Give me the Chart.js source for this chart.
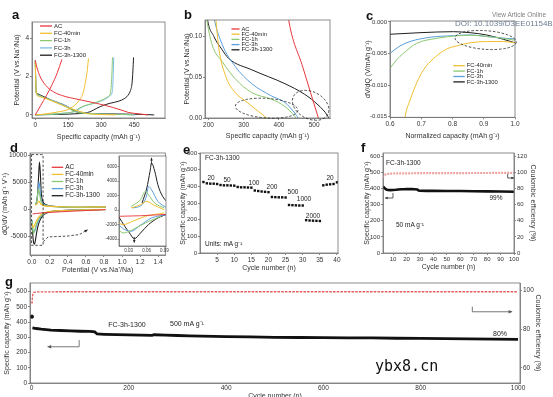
<!DOCTYPE html>
<html><head><meta charset="utf-8">
<script src="https://cdn.jsdelivr.net/npm/chart.js@4.4.1/dist/chart.umd.min.js"></script>
<style>
html,body{margin:0;padding:0;background:#fff}
#root{position:relative;width:553px;height:397px;overflow:hidden;background:#fff;font-family:"Liberation Sans",Arial,sans-serif}
#root canvas{position:absolute}
.t{position:absolute;white-space:nowrap;color:#222;font-size:6.5px;line-height:1;z-index:5;transform:translate(-50%,-50%)}
.tl{position:absolute;white-space:nowrap;color:#222;font-size:6.5px;line-height:1;z-index:5;transform:translateY(-50%)}
.p{position:absolute;font-weight:bold;font-size:13px;line-height:1;color:#111;z-index:5}
</style></head>
<body><div id="root">
<div class="p" style="left:12px;top:8px">a</div>
<div class="p" style="left:184px;top:8px">b</div>
<div class="p" style="left:366px;top:9px">c</div>
<div class="p" style="left:10px;top:141px">d</div>
<div class="p" style="left:183px;top:143px">e</div>
<div class="p" style="left:361px;top:141px">f</div>
<div class="p" style="left:5px;top:275px">g</div>
<div class="tl" style="left:492px;top:15px;color:#808080;font-size:6.5px">View Article Online</div>
<div class="tl" style="left:455px;top:23.5px;color:#6d7d92;font-size:8px">DOI: 10.1039/D3EE01154B</div>
<div class="tl" style="left:205px;top:158px">FC-3h-1300</div>
<div class="t" style="left:211px;top:178px">20</div>
<div class="t" style="left:227px;top:180px">50</div>
<div class="t" style="left:254px;top:183px">100</div>
<div class="t" style="left:272px;top:187px">200</div>
<div class="t" style="left:293px;top:192px">500</div>
<div class="t" style="left:304px;top:199px">1000</div>
<div class="t" style="left:313px;top:216px">2000</div>
<div class="t" style="left:330px;top:178px">20</div>
<div class="tl" style="left:205px;top:244px">Units: mA g⁻¹</div>
<div class="tl" style="left:386px;top:163px">FC-3h-1300</div>
<div class="tl" style="left:396px;top:225px">50 mA g⁻¹</div>
<div class="t" style="left:496px;top:198px">99%</div>
<div class="t" style="left:127px;top:324px;font-size:7px">FC-3h-1300</div>
<div class="tl" style="left:170px;top:323px;font-size:7px">500 mA g⁻¹</div>
<div class="t" style="left:500px;top:333px;font-size:7px">80%</div>
<div class="tl" style="left:375px;top:366px;font-family:'DejaVu Sans Mono',monospace;font-size:15px;color:#111">ybx8.cn</div>
</div>
<script>
// ---------------- DATA ----------------
const sampleNames = ['AC','FC-40min','FC-1h','FC-3h','FC-3h-1300'];
const sampleColors = ['#e8373d','#f2bf2f','#8cc870','#5b9fdc','#1f1f1f'];

// (a)/(b) galvanostatic curves: [capacity mAh/g, potential V]
const disAC   = [[0,2.85],[8,2.45],[20,2.05],[40,1.65],[70,1.3],[120,1.02],[200,0.8],[280,0.6],[350,0.4],[400,0.22],[426,0.124],[468,0.062],[512,0]];
const dis40   = [[0,2.8],[1.5,2.0],[4,1.2],[10,1.0],[30,0.92],[60,0.8],[120,0.52],[180,0.26],[220,0.124],[229,0.086],[248,0.052],[276,0.031],[304,0.021],[342,0.008],[365,0]];
const dis1h   = [[0,2.8],[1.5,2.0],[4,1.2],[10,1.05],[30,0.95],[68,0.78],[140,0.42],[175,0.2],[194,0.124],[210,0.09],[239,0.069],[276,0.048],[323,0.031],[379,0.023],[417,0.014],[445,0.002],[448,0]];
const dis3h   = [[0,2.8],[1.5,2.0],[4,1.2],[10,1.05],[30,0.95],[68,0.8],[150,0.42],[190,0.2],[215,0.124],[239,0.09],[276,0.063],[323,0.042],[379,0.027],[417,0.019],[445,0.006],[455,0]];
const dis1300 = [[0,2.85],[1.5,2.0],[4,1.2],[10,1.1],[30,1.0],[68,0.8],[144,0.45],[180,0.2],[196,0.124],[215,0.1],[238,0.084],[257,0.073],[323,0.059],[417,0.042],[473,0.029],[511,0.016],[539,0.002],[541,0]];
const chgAC   = [[0,0],[25,0.5],[50,1.0],[75,1.55],[100,2.2],[121,2.9]];
const chg40   = [[0,0],[30,0.03],[68,0.09],[110,0.17],[144,0.26],[170,0.42],[189,0.61],[205,0.85],[217,1.13],[227,1.65],[235,2.2],[242,2.95]];
const chg1h   = [[0,0],[60,0.03],[120,0.08],[175,0.18],[200,0.35],[220,0.47],[255,0.58],[300,0.76],[330,0.95],[342,1.15],[346,1.6],[349,2.3],[351,3.0]];
const chg3h   = [[0,0],[60,0.03],[120,0.08],[180,0.18],[205,0.35],[225,0.47],[260,0.58],[310,0.78],[338,0.98],[350,1.2],[353,1.6],[355,2.3],[357,3.0]];
const chg1300 = [[0,0],[100,0.03],[200,0.07],[250,0.17],[280,0.35],[310,0.5],[341,0.61],[380,0.72],[405,0.85],[420,1.0],[432,1.25],[440,1.65],[444,2.3],[447,3.0]];

// (c) dV/dQ vs normalized capacity
const c40   = [[0.64,-0.0185],[0.648,-0.0151],[0.664,-0.0124],[0.685,-0.0097],[0.707,-0.0076],[0.739,-0.0058],[0.781,-0.0043],[0.813,-0.0038],[0.856,-0.0033],[0.909,-0.0031],[0.963,-0.0031],[1.0,-0.0033]];
const c1h   = [[0.6,-0.00735],[0.621,-0.006],[0.643,-0.00497],[0.685,-0.0034],[0.749,-0.0026],[0.813,-0.0022],[0.856,-0.0021],[0.909,-0.0023],[0.963,-0.0026],[1.0,-0.0029]];
const c3h   = [[0.6,-0.00497],[0.632,-0.0038],[0.664,-0.0031],[0.728,-0.00243],[0.803,-0.00217],[0.856,-0.00206],[0.909,-0.0023],[0.963,-0.00256],[1.0,-0.0027]];
const c1300 = [[0.6,-0.00195],[0.696,-0.0017],[0.803,-0.00154],[0.856,-0.0017],[0.909,-0.00206],[0.963,-0.00275],[1.0,-0.0033]];

// (d) dQ/dV main
const dAC      = [[0.01,-900],[0.05,-800],[0.2,-600],[0.4,-420],[0.6,-260],[0.82,-100]];
const d40Pos   = [[0.04,700],[0.06,1000],[0.078,1500],[0.09,1200],[0.11,800],[0.16,550],[0.3,450],[0.55,400],[0.82,420]];
const d40Neg   = [[0.006,-2800],[0.015,-3400],[0.03,-3000],[0.05,-2200],[0.08,-1400],[0.12,-800],[0.18,-500],[0.3,-300],[0.55,-180],[0.82,-80]];
const d1hPos   = [[0.04,800],[0.06,2000],[0.072,3800],[0.085,3000],[0.1,1500],[0.12,900],[0.16,600],[0.3,420],[0.55,330],[0.82,350]];
const d1hNeg   = [[0.004,-2200],[0.01,-3800],[0.018,-4500],[0.03,-4000],[0.05,-2800],[0.08,-1700],[0.12,-900],[0.18,-550],[0.3,-300],[0.55,-150],[0.82,-60]];
const d3hPos   = [[0.045,800],[0.065,2500],[0.08,5000],[0.09,3800],[0.1,2000],[0.12,1100],[0.16,700],[0.3,450],[0.55,350],[0.82,380]];
const d3hNeg   = [[0.004,-2000],[0.01,-3500],[0.02,-4300],[0.03,-4200],[0.05,-3200],[0.08,-1900],[0.12,-1000],[0.18,-550],[0.3,-300],[0.55,-150],[0.82,-60]];
const d1300Pos = [[0.05,1000],[0.065,3000],[0.075,6000],[0.085,8700],[0.095,6500],[0.105,3000],[0.12,1500],[0.16,800],[0.3,450],[0.55,350],[0.82,380]];
const d1300Neg = [[0.004,-2500],[0.01,-4500],[0.02,-6200],[0.03,-6500],[0.04,-5800],[0.055,-4200],[0.08,-2500],[0.12,-1200],[0.18,-600],[0.3,-300],[0.55,-150],[0.82,-60]];
// (d) inset
const inAC      = [[0.0131,-870],[0.05,-790],[0.1,-570]];
const in40Pos   = [[0.0343,280],[0.05,730],[0.0605,1200],[0.0711,730],[0.0896,40]];
const in40Neg   = [[0.0131,-1790],[0.021,-2020],[0.0368,-1560],[0.058,-870],[0.0896,-410]];
const in1hPos   = [[0.0343,500],[0.05,1420],[0.058,2570],[0.0632,2110],[0.0738,960],[0.0896,280]];
const in1hNeg   = [[0.0131,-2710],[0.021,-3170],[0.0368,-2710],[0.058,-1790],[0.0842,-870]];
const in3hPos   = [[0.0368,280],[0.0526,730],[0.0605,2110],[0.0632,3260],[0.0684,2800],[0.079,1200],[0.0948,280]];
const in3hNeg   = [[0.0131,-2020],[0.0237,-2710],[0.0343,-2940],[0.0474,-2250],[0.0684,-1100],[0.0948,-640]];
const in1300Pos = [[0.0526,965],[0.0605,3030],[0.0659,5340],[0.0684,6480],[0.0738,5340],[0.079,3490],[0.0869,1890],[0.1,730]];
const in1300Neg = [[0.0131,-870],[0.0237,-2250],[0.0316,-3170],[0.0395,-3960],[0.05,-3170],[0.0632,-2020],[0.079,-1100],[0.1,-410]];

// (e) rate capability
const eCycles   = [1,2,3,4,5,6,7,8,9,10,11,12,13,14,15,16,17,18,19,20,21,22,23,24,25,26,27,28,29,30,31,32,33,34,35,36,37,38,39,40];
const eCapacity = [426,418,416,416,414, 408,406,406,405,404, 396,394,394,393,392, 375,372,369,367,365, 336,335,334,334,333, 288,287,286,285,285, 197,195,194,193,192, 406,410,412,414,424];

// (f) cycling at 50 mA/g
const fCapacity = [[2,410],[3,408],[4,400],[5,393],[6,391],[8,390],[10,391],[12,392],[14,394],[16,395],[18,395],[20,396],[22,396],[24,396],[26,395],[28,394],[29,387],[30,386],[35,385],[40,385],[50,384],[60,384],[70,383],[80,382],[90,381],[100,380]];
const fCE       = [[2,94],[3,96],[4,97],[5,97.8],[7,98.2],[10,98.6],[20,98.8],[30,99],[40,99],[50,99.1],[60,99.1],[70,99.2],[80,99.2],[90,99.3],[100,99.3]];

// (g) long cycling at 500 mA/g
const gFirst    = [[1,436]];
const gCapacity = [[2,362],[10,358],[20,354],[40,348],[60,345],[80,342],[100,340],[120,339],[130,336],[135,322],[150,320],[175,318],[200,316],[225,315],[248,313],[252,317],[275,314],[300,312],[325,310],[350,308],[400,305],[450,303],[500,300],[550,299],[600,298],[650,297],[700,296],[750,294],[800,293],[850,291],[900,290],[950,288],[1000,287]];
const gCE       = [[1,93],[2,96.5],[3,98],[5,98.8],[10,99],[50,99.1],[100,99.1],[150,99.1],[200,99.1],[250,99.1],[300,99.1],[350,99.1],[400,99.1],[450,99.1],[500,99.1],[550,99.1],[600,99.1],[650,99.1],[700,99.1],[750,99.1],[800,99.1],[850,99.1],[900,99.1],[950,99.1],[1000,99.1]];

// tick values
const aXTicks=[0,150,300,450], aYTicks=[0,2,4];
const bXTicks=[200,300,400,500], bYTicks=[0,0.05,0.10];
const cXTicks=[0.6,0.7,0.8,0.9,1.0], cYTicks=[0,-0.005,-0.010,-0.015];
const dXTicks=[0,0.2,0.4,0.6,0.8,1.0,1.2,1.4], dYTicks=[-5000,0,5000,10000];
const inXTicks=[0.03,0.06,0.09], inYTicks=[-4000,-2000,0,2000,4000,6000];
const eXTicks=[5,10,15,20,25,30,35,40], eYTicks=[0,100,200,300,400,500,600];
const fXTicks=[10,20,30,40,50,60,70,80,90,100], fYTicks=[0,100,200,300,400,500,600], fY2Ticks=[0,20,40,60,80,100,120];
const gXTicks=[0,200,400,600,800,1000], gYTicks=[0,100,200,300,400,500,600], gY2Ticks=[60,80,100];

// ---------------- HELPERS ----------------
const FONT='"Liberation Sans", Arial, Helvetica, sans-serif';
const fix = d => v => Number(v).toFixed(d);
const pts = a => a.map(p => ({x:p[0], y:p[1]}));

function axis(o){
  const horiz = (o.position==='bottom'||o.position==='top');
  return {
    type:'linear', position:o.position, min:o.min, max:o.max,
    afterBuildTicks: s => { s.ticks = o.ticks.map(v => ({value:v})); },
    afterFit: s => { if (horiz) s.height = o.size; else s.width = o.size; },
    ticks:{autoSkip:false, maxRotation:0, minRotation:0, color:'#333',
      font:{family:FONT, size:o.tf||6.5}, padding:(o.tp!==undefined?o.tp:1),
      callback: v => (o.fmt ? o.fmt(v) : String(v))},
    grid:{display:true, drawOnChartArea:false, drawTicks:true, tickLength:(o.tl!==undefined?o.tl:2), color:'#555', lineWidth:0.7},
    border:{display:true, color:'#777', width:0.8},
    title:{display:!!o.title, text:o.title||'', color:'#333', font:{family:FONT, size:o.ttf||7},
      padding:{top:o.tpad||0, bottom:o.tpad||0}}
  };
}
function line(data, color, w, extra){
  return Object.assign({data:pts(data), showLine:true, borderColor:color, backgroundColor:color,
    borderWidth:w||1, pointRadius:0, cubicInterpolationMode:'monotone', fill:false}, extra||{});
}

const framePlugin = {
  id:'frame',
  beforeDraw(chart, args, o){
    if (!o || !o.fill) return;
    const a=chart.chartArea, ctx=chart.ctx;
    ctx.save(); ctx.fillStyle=o.fill; ctx.fillRect(a.left,a.top,a.right-a.left,a.bottom-a.top); ctx.restore();
  },
  afterDatasetsDraw(chart, args, o){
    const a=chart.chartArea, ctx=chart.ctx;
    ctx.save(); ctx.strokeStyle=(o&&o.color)||'#707070'; ctx.lineWidth=0.8;
    ctx.strokeRect(a.left,a.top,a.right-a.left,a.bottom-a.top); ctx.restore();
  }
};
const legendPlugin = {
  id:'legendBox',
  afterDraw(chart, args, o){
    if (!o || !o.items) return;
    const ctx=chart.ctx, x0=chart.chartArea.left+o.x, y0=chart.chartArea.top+o.y;
    ctx.save(); ctx.font=o.size+'px '+FONT; ctx.textBaseline='middle'; ctx.textAlign='left';
    o.items.forEach((it,i)=>{
      const y=y0+i*o.dy;
      ctx.strokeStyle=it.color; ctx.lineWidth=o.lw||1.3; ctx.beginPath(); ctx.moveTo(x0,y); ctx.lineTo(x0+o.len,y); ctx.stroke();
      ctx.fillStyle='#222'; ctx.fillText(it.label, x0+o.len+(o.gap||2), y);
    });
    ctx.restore();
  }
};
const annotPlugin = {
  id:'annot',
  afterDatasetsDraw(chart, args, o){
    if (!o) return;
    const ctx=chart.ctx, X=chart.scales.x, Y=id=>chart.scales[id||'y'];
    ctx.save();
    (o.ellipses||[]).forEach(e=>{
      const ys=Y(e.axis), cx=X.getPixelForValue(e.cx), cy=ys.getPixelForValue(e.cy);
      const rx=Math.abs(X.getPixelForValue(e.cx+e.rx)-cx), ry=Math.abs(ys.getPixelForValue(e.cy+e.ry)-cy);
      ctx.beginPath(); ctx.setLineDash([2.5,1.8]); ctx.strokeStyle='#222'; ctx.lineWidth=0.8;
      ctx.ellipse(cx,cy,rx,ry,(e.rot||0)*Math.PI/180,0,Math.PI*2); ctx.stroke();
    });
    (o.rects||[]).forEach(r=>{
      const ys=Y(r.axis), x0=X.getPixelForValue(r.x0), x1=X.getPixelForValue(r.x1), y0=ys.getPixelForValue(r.y0), y1=ys.getPixelForValue(r.y1);
      ctx.beginPath(); ctx.setLineDash([2.5,1.8]); ctx.strokeStyle='#222'; ctx.lineWidth=0.8;
      ctx.strokeRect(x0,y0,x1-x0,y1-y0);
    });
    (o.paths||[]).forEach(p=>{
      const ys=Y(p.axis);
      const q=p.pts.map(v=>[X.getPixelForValue(v[0]), ys.getPixelForValue(v[1])]);
      ctx.beginPath(); ctx.setLineDash(p.dash||[]); ctx.strokeStyle=p.color||'#222'; ctx.lineWidth=p.width||0.8;
      q.forEach((v,i)=> i?ctx.lineTo(v[0],v[1]):ctx.moveTo(v[0],v[1])); ctx.stroke();
      if (p.arrow){
        const [x1,y1]=q[q.length-2], [x2,y2]=q[q.length-1], ang=Math.atan2(y2-y1,x2-x1), s=p.head||3.5;
        ctx.setLineDash([]); ctx.fillStyle=p.color||'#222'; ctx.beginPath(); ctx.moveTo(x2,y2);
        ctx.lineTo(x2-s*Math.cos(ang-0.45), y2-s*Math.sin(ang-0.45));
        ctx.lineTo(x2-s*Math.cos(ang+0.45), y2-s*Math.sin(ang+0.45)); ctx.closePath(); ctx.fill();
      }
    });
    ctx.restore();
  }
};

function mk(box, datasets, scales, pad, plugins){
  const c=document.createElement('canvas');
  c.width=box.w; c.height=box.h;
  c.style.left=box.l+'px'; c.style.top=box.t+'px'; c.style.width=box.w+'px'; c.style.height=box.h+'px';
  document.getElementById('root').appendChild(c);
  return new Chart(c, {
    type:'scatter',
    data:{datasets},
    options:{
      responsive:false, maintainAspectRatio:false, animation:false, devicePixelRatio:1,
      layout:{padding:Object.assign({top:0,right:0,bottom:0,left:0}, pad)},
      plugins:Object.assign({legend:{display:false}, tooltip:{enabled:false}}, plugins||{}),
      scales
    },
    plugins:[framePlugin, legendPlugin, annotPlugin]
  });
}
const legendItems = idx => idx.map(i => ({label:sampleNames[i], color:sampleColors[i]}));

// ---------------- (a) ----------------
const aDis=[disAC,dis40,dis1h,dis3h,dis1300], aChg=[chgAC,chg40,chg1h,chg3h,chg1300];
const aSets=[];
[0,1,2,3,4].forEach(i=>{ aSets.push(line(aDis[i], i===3?'#79bde6':sampleColors[i], 1)); aSets.push(line(aChg[i], i===3?'#79bde6':sampleColors[i], 1)); });
mk({l:0,t:14,w:172,h:131}, aSets, {
  x:axis({position:'bottom',min:-15,max:590,ticks:aXTicks,size:27,title:'Specific capacity (mAh g⁻¹)',tpad:4,fmt:fix(0)}),
  y:axis({position:'left',min:-0.16,max:4.85,ticks:aYTicks,size:32,title:'Potential (V vs.Na⁺/Na)',tpad:12.5,fmt:fix(0)})
}, {top:8,right:7}, {legendBox:{x:8,y:4,dy:7.3,len:12,gap:2,size:6,items:legendItems([0,1,2,3,4]).map((it,i)=>i===3?{label:it.label,color:'#79bde6'}:it)}});

// ---------------- (b) ----------------
const bSets=[disAC,dis40,dis1h,dis3h,dis1300].map((d,i)=>line(d, sampleColors[i], 1));
mk({l:178,t:12,w:162,h:133}, bSets, {
  x:axis({position:'bottom',min:190,max:545,ticks:bXTicks,size:27,title:'Specific capacity (mAh g⁻¹)',tpad:4.8,fmt:fix(0)}),
  y:axis({position:'left',min:0,max:0.12,ticks:bYTicks,size:27,title:'Potential (V vs.Na⁺/Na)',tpad:5.3,fmt:fix(2)})
}, {top:8,right:10}, {
  legendBox:{x:26.5,y:9,dy:5.2,len:8,gap:2,size:5.8,items:legendItems([0,1,2,3,4])},
  annot:{ellipses:[{cx:365,cy:0.012,rx:89,ry:0.012,rot:4},{cx:490,cy:0.0155,rx:55,ry:0.0165,rot:28}]}
});

// ---------------- (c) ----------------
const cSets=[line(c40,sampleColors[1],1), line(c1h,sampleColors[2],1), line(c3h,sampleColors[3],1), line(c1300,sampleColors[4],1)];
mk({l:358,t:12,w:190,h:133}, cSets, {
  x:axis({position:'bottom',min:0.6,max:1.0,ticks:cXTicks,size:27.7,title:'Normalized capacity (mAh g⁻¹)',tpad:4.8,fmt:fix(1)}),
  y:axis({position:'left',min:-0.0151,max:0.00015,ticks:cYTicks,size:32,title:'dV/dQ (V/mAh g⁻¹)',tpad:5.8,tf:6,fmt:fix(3)})
}, {top:9,right:33}, {
  legendBox:{x:63.3,y:44.7,dy:5.4,len:11.5,gap:2,size:5.8,items:legendItems([1,2,3,4])},
  annot:{ellipses:[{cx:0.906,cy:-0.00286,rx:0.098,ry:0.00148,rot:4}]}
});

// ---------------- (d) main ----------------
const dSets=[line(dAC,sampleColors[0],1)];
[[d40Neg,d40Pos],[d1hNeg,d1hPos],[d3hNeg,d3hPos],[d1300Neg,d1300Pos]].forEach((pr,k)=>{
  dSets.push(line(pr[0], sampleColors[k+1], 1.1)); dSets.push(line(pr[1], sampleColors[k+1], 1.1));
});
mk({l:0,t:146,w:176,h:129}, dSets, {
  x:axis({position:'bottom',min:-0.02,max:1.48,ticks:dXTicks,size:20,title:'Potential (V vs.Na⁺/Na)',tpad:0.8,fmt:fix(1)}),
  y:axis({position:'left',min:-8500,max:10400,ticks:dYTicks,size:30,title:'dQ/dV (mAh g⁻¹ V⁻¹)',tpad:0.8,fmt:fix(0)})
}, {top:7,right:10.7}, {
  legendBox:{x:21.7,y:14.3,dy:7.1,len:11.5,gap:2,size:6.5,items:legendItems([0,1,2,3,4])},
  annot:{rects:[{x0:-0.003,x1:0.125,y0:10100,y1:-6700}],
         paths:[{pts:[[0.128,-6050],[0.18,-5150],[0.39,-5000],[0.53,-4700],[0.62,-3800]],dash:[2.5,1.8],arrow:true,head:3.5}]}
});

// ---------------- (d) inset ----------------
const inSets=[line(inAC,sampleColors[0],0.9)];
[[in40Neg,in40Pos],[in1hNeg,in1hPos],[in3hNeg,in3hPos],[in1300Neg,in1300Pos]].forEach((pr,k)=>{
  inSets.push(line(pr[0], sampleColors[k+1], 1)); inSets.push(line(pr[1], sampleColors[k+1], 1));
});
mk({l:100,t:150,w:72,h:104}, inSets, {
  x:axis({position:'bottom',min:0.014,max:0.0926,ticks:inXTicks,size:8,tf:4.5,tl:1.5,tp:0.5,fmt:fix(2)}),
  y:axis({position:'left',min:-4965,max:7450,ticks:inYTicks,size:19,tf:4.5,tl:1.5,tp:0.5,fmt:fix(0)})
}, {top:6,right:6}, {
  frame:{fill:'#ffffff'},
  annot:{paths:[{pts:[[0.0684,6300],[0.0684,7200]],arrow:true,head:3},{pts:[[0.0395,-3700],[0.0395,-4500]],arrow:true,head:3}]}
});

// ---------------- (e) ----------------
const eSets=[{data:eCycles.map((c,i)=>({x:c,y:eCapacity[i]})), showLine:false, pointStyle:'rect', pointRadius:1.7, backgroundColor:'#111', borderColor:'#111', borderWidth:0}];
mk({l:178,t:146,w:167,h:129}, eSets, {
  x:axis({position:'bottom',min:0,max:40.3,ticks:eXTicks,size:22,title:'Cycle number (n)',tpad:3,fmt:fix(0)}),
  y:axis({position:'left',min:0,max:600,ticks:eYTicks,size:22,title:'Specific capacity (mAh g⁻¹)',tpad:0.8,tf:6,fmt:fix(0)})
}, {top:7,right:7});

// ---------------- (f) ----------------
const fSets=[
  line(fCE,'#eea3a3',2.2,{yAxisID:'y2',borderDash:[2,1],cubicInterpolationMode:'default',tension:0}),
  line(fCapacity,'#111',2.6,{cubicInterpolationMode:'default',tension:0})
];
const fY2=axis({position:'right',min:0,max:124,ticks:fY2Ticks,size:36,title:'Coulombic efficiency (%)',tpad:12.5,tf:6,fmt:fix(0)});
mk({l:360,t:146,w:190,h:129}, fSets, {
  x:axis({position:'bottom',min:2.5,max:100,ticks:fXTicks,size:22,title:'Cycle number (n)',tpad:4,tf:6,fmt:fix(0)}),
  y:axis({position:'left',min:0,max:620,ticks:fYTicks,size:23,title:'Specific capacity (mAh g⁻¹)',tpad:2.8,tf:6,fmt:fix(0)}),
  y2:fY2
}, {top:7}, {
  annot:{paths:[{pts:[[9.9,372],[9.9,341],[4,341]],arrow:true,head:3,color:'#333'},{pts:[[95.3,490],[95.3,465],[100,465]],arrow:true,head:3,color:'#333'}]}
});

// ---------------- (g) ----------------
const gSets=[
  line(gCE,'#e25b5b',1.3,{yAxisID:'y2',borderDash:[2.5,1.2],cubicInterpolationMode:'default',tension:0}),
  line(gCapacity,'#111',2.8,{cubicInterpolationMode:'default',tension:0}),
  {data:pts(gFirst), showLine:false, pointRadius:1.6, backgroundColor:'#111', borderColor:'#111'}
];
mk({l:0,t:276,w:553,h:125}, gSets, {
  x:axis({position:'bottom',min:-3,max:1004,ticks:gXTicks,size:18,title:'Cycle number (n)',tpad:0.8,tl:1.5,tp:0,fmt:fix(0)}),
  y:axis({position:'left',min:0,max:657,ticks:gYTicks,size:30,title:'Specific capacity (mAh g⁻¹)',tpad:3.1,fmt:fix(0)}),
  y2:axis({position:'right',min:52.3,max:103.6,ticks:gY2Ticks,size:33,title:'Coulombic efficiency (%)',tpad:10.8,fmt:fix(0)})
}, {top:7}, {
  annot:{paths:[{pts:[[98,282],[98,238],[33,238]],arrow:true,head:4,color:'#555'},{pts:[[906,501],[906,468],[988,468]],arrow:true,head:4,color:'#555'}]}
});
</script>
</body></html>
